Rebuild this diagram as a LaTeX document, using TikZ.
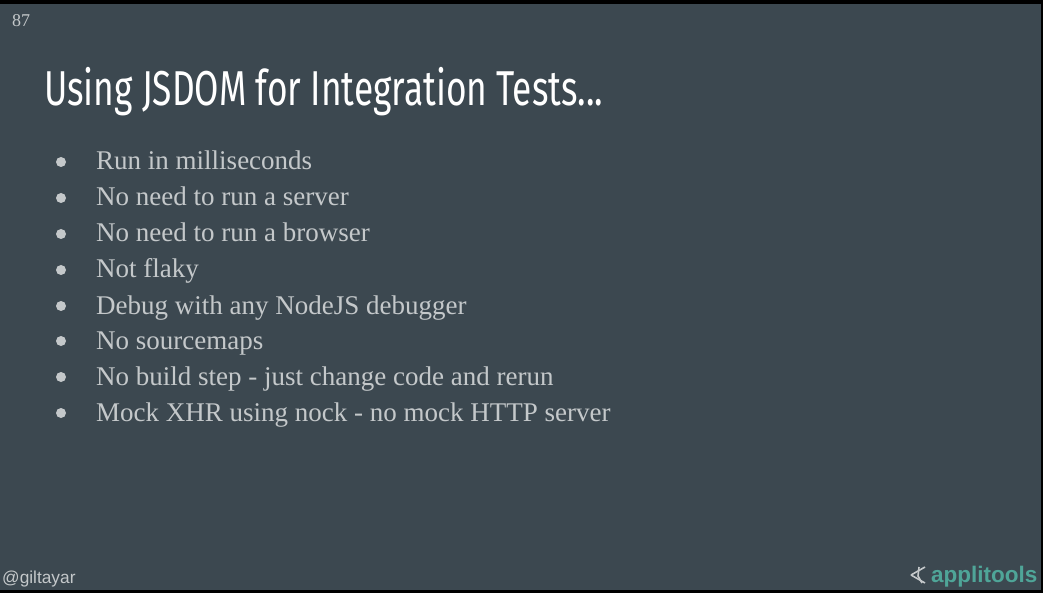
\documentclass[tikz,border=0pt]{standalone}
\usepackage{fontspec}
\setmainfont{Liberation Serif}
\newfontfamily\titlefont[FakeStretch=0.72]{Fira Sans}
\newfontfamily\tagfont{Liberation Sans}
\definecolor{slidebg}{HTML}{3C4850}
\definecolor{itemgrey}{HTML}{C4C8CA}
\definecolor{logogreen}{HTML}{4FA598}
\tikzset{
    titletext/.style={anchor=base west,inner sep=0pt,white,font=\titlefont\fontsize{49}{49}\selectfont},
    itemtext/.style={anchor=base west,inner sep=0pt,itemgrey,font=\fontsize{27}{27}\selectfont},
    tagtext/.style={anchor=base west,inner sep=0pt,itemgrey,font=\tagfont\fontsize{17.3}{17.3}\selectfont},
}
\begin{document}
\begin{tikzpicture}[x=1pt,y=-1pt,>=stealth]
\useasboundingbox(0,0)rectangle(1043,593);
\fill[black](0,0)rectangle(1043,593);
\fill[slidebg](0,4)rectangle(1041,590);
\node[anchor=base west,inner sep=0pt,itemgrey,font=\fontsize{18}{18}\selectfont] (pagenum) at (12,27) {87};
\node[titletext] (title) at (44,106) {Using JSDOM for Integration Tests...};
\foreach \y/\name/\txt in {170/a/Run in milliseconds,
    206/b/No need to run a server,
    242/c/No need to run a browser,
    278/d/Not flaky,
    314/e/Debug with any NodeJS debugger,
    349/f/No sourcemaps,
    385/g/No build step - just change code and rerun,
    421/h/Mock XHR using nock - no mock HTTP server}
{
    \fill[itemgrey](61,\y-8)circle(5);
    \node[itemtext] (item\name) at (96,\y) {\txt};
}
\node[tagtext] (handle) at (2,583) {@giltayar};
\node[anchor=base west,inner sep=0pt,logogreen,font=\tagfont\bfseries\fontsize{22.5}{22.5}\selectfont] (logo) at (931,582) {applitools};
% logo mark
\draw[itemgrey,line width=1.6pt](911,575)--(925,567);
\draw[itemgrey,line width=1.6pt](911,575)--(925,583);
\draw[itemgrey,line width=1.6pt](919,567)--(918,576)--(922,583);
\end{tikzpicture}
\end{document}
